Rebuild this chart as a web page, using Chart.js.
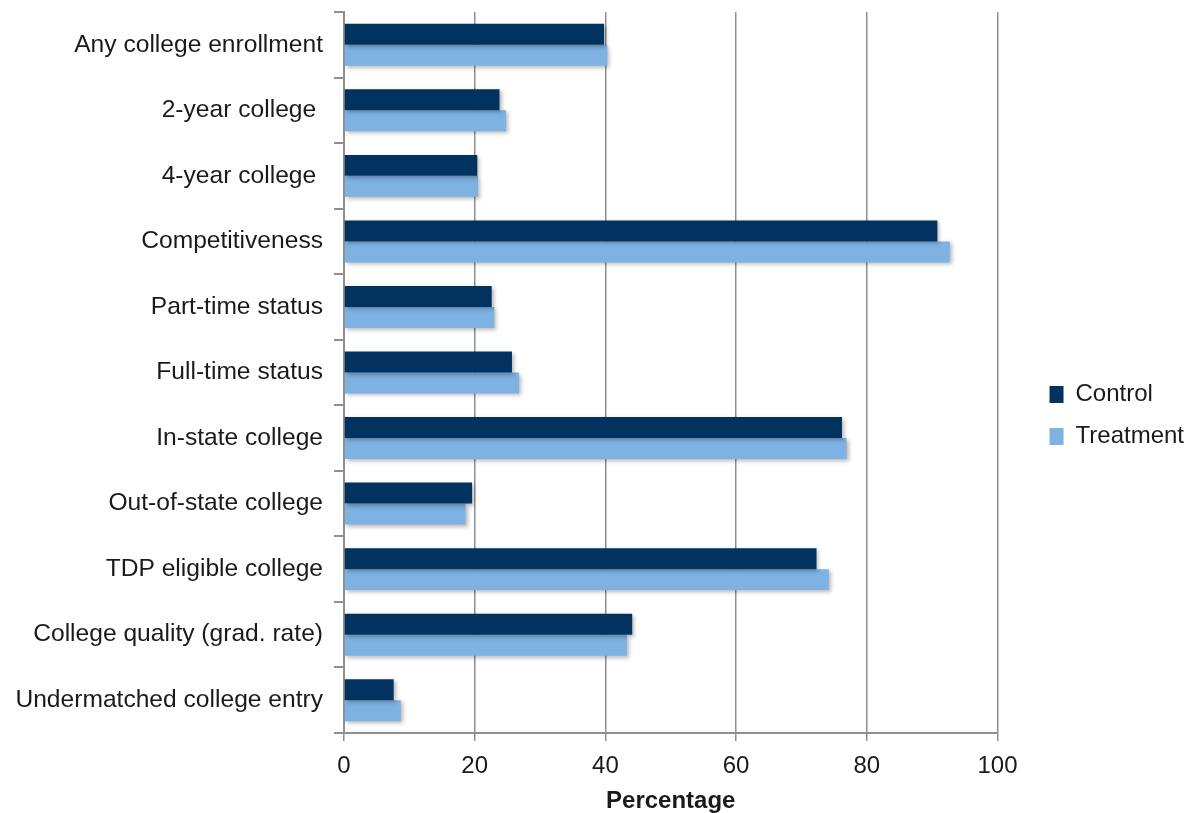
<!DOCTYPE html>
<html>
<head>
<meta charset="utf-8">
<script src="https://cdn.jsdelivr.net/npm/chart.js@4.4.1/dist/chart.umd.min.js"></script>
<style>
  html, body { margin: 0; padding: 0; background: #ffffff; }
  #wrap { width: 1191px; height: 813px; }
</style>
</head>
<body>
<div id="wrap"><canvas id="chart" width="1191" height="813"></canvas></div>
<script>
// College outcomes by study group (percent)
const categories = [
  'Any college enrollment',
  '2-year college ',
  '4-year college ',
  'Competitiveness',
  'Part-time status',
  'Full-time status',
  'In-state college',
  'Out-of-state college',
  'TDP eligible college',
  'College quality (grad. rate)',
  'Undermatched college entry'
];
const controlValues   = [39.8, 23.8, 20.4, 90.8, 22.6, 25.7, 76.2, 19.6, 72.3, 44.1, 7.6];
const treatmentValues = [40.3, 24.8, 20.5, 92.7, 23.0, 26.8, 76.9, 18.6, 74.2, 43.3, 8.7];
const seriesNames = ['Control', 'Treatment'];
const xTickValues = [0, 20, 40, 60, 80, 100];
const xAxisTitle = 'Percentage';

const FONT = '"Liberation Sans", Arial, Helvetica, sans-serif';
const GRID = '#8f8f8f';
const TEXT = '#1a1a1a';

// soft drop shadow under the bars
const barShadow = {
  id: 'barShadow',
  beforeDatasetDraw(chart) {
    const c = chart.ctx;
    c.save();
    c.shadowColor = 'rgba(0,0,0,0.28)';
    c.shadowBlur = 4;
    c.shadowOffsetX = 2;
    c.shadowOffsetY = 2;
  },
  afterDatasetDraw(chart) {
    chart.ctx.restore();
  }
};

// move the legend block away from the plot area
const legendGap = {
  id: 'legendGap',
  afterLayout(chart) {
    const lg = chart.legend;
    const pad = lg.options.labels.padding;
    lg.left = chart.chartArea.right + 52 - pad;
    lg.right = lg.left + lg.width;
    lg.top += 9;
    lg.bottom += 9;
  }
};

new Chart(document.getElementById('chart'), {
  type: 'bar',
  data: {
    labels: categories,
    datasets: [
      {
        label: seriesNames[0],
        data: controlValues,
        backgroundColor: '#02325f',
        borderWidth: 0,
        categoryPercentage: 0.64,
        barPercentage: 1.0
      },
      {
        label: seriesNames[1],
        data: treatmentValues,
        backgroundColor: '#7db2e3',
        borderWidth: 0,
        categoryPercentage: 0.64,
        barPercentage: 1.0
      }
    ]
  },
  options: {
    indexAxis: 'y',
    responsive: false,
    animation: false,
    devicePixelRatio: 1,
    layout: { padding: { top: 0, right: 31, bottom: 0, left: 0 } },
    plugins: {
      tooltip: { enabled: false },
      legend: {
        position: 'right',
        align: 'center',
        labels: {
          font: { family: FONT, size: 24 },
          color: TEXT,
          boxWidth: 14,
          boxHeight: 17,
          padding: 18
        }
      }
    },
    scales: {
      x: {
        type: 'linear',
        min: 0,
        max: 100,
        afterBuildTicks(scale) {
          scale.ticks = xTickValues.map(v => ({ value: v }));
        },
        afterFit(scale) { scale.height = 80; },
        grid: {
          color: GRID,
          lineWidth: 1.5,
          drawTicks: true,
          tickLength: 8
        },
        border: { display: true, color: GRID, width: 2 },
        ticks: {
          font: { family: FONT, size: 24 },
          color: TEXT,
          padding: 11
        },
        title: {
          display: true,
          text: xAxisTitle,
          font: { family: FONT, size: 24, weight: 'bold', lineHeight: 1.0 },
          color: TEXT,
          padding: { top: 6, bottom: 0 }
        }
      },
      y: {
        afterFit(scale) {
          scale.width = 344;
          scale.paddingTop = 12;
          scale.paddingBottom = 0;
        },
        grid: {
          offset: true,
          drawOnChartArea: false,
          drawTicks: true,
          tickLength: 10,
          color: GRID,
          lineWidth: 2
        },
        border: { display: true, color: GRID, width: 2 },
        ticks: {
          font: { family: FONT, size: 24.6 },
          color: TEXT,
          padding: 11
        }
      }
    }
  },
  plugins: [barShadow, legendGap]
});
</script>
</body>
</html>
